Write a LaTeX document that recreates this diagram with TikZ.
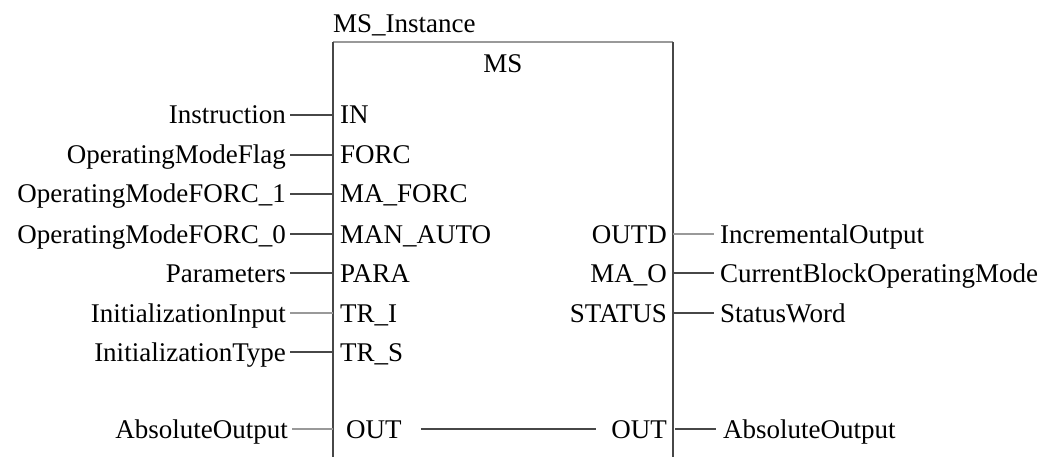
\documentclass[tikz,border=0pt]{standalone}
\usepackage{fontspec}
\setmainfont{Liberation Serif}
\begin{document}
\begin{tikzpicture}[x=1pt,y=-1pt,
  lbl/.style={inner sep=0pt,font=\fontsize{27}{32}\selectfont},
  lblL/.style={lbl,anchor=base east},
  lblR/.style={lbl,anchor=base west},
  dark/.style={draw=black!72,line width=1.3pt},
  light/.style={draw=black!40,line width=1.3pt}]
\useasboundingbox (0,0) rectangle (1046,457);
% block frame
\coordinate (tl) at (333,42);
\coordinate (tr) at (673,42);
\coordinate (bl) at (333,457);
\coordinate (br) at (673,457);
\draw[light] (tl) -- (tr);
\draw[dark] (tl) -- (bl);
\draw[dark] (tr) -- (br);
\node[lbl,anchor=base west] (inst) at (333,33) {MS\_Instance};
\node[lbl,anchor=base] (type) at (503,73) {MS};
% left input labels
\node[lblL] (l1) at (286,124) {Instruction};
\node[lblL] (l2) at (286,164) {OperatingModeFlag};
\node[lblL] (l3) at (286,203) {OperatingModeFORC\_1};
\node[lblL] (l4) at (286,243) {OperatingModeFORC\_0};
\node[lblL] (l5) at (286,282) {Parameters};
\node[lblL] (l6) at (286,322) {InitializationInput};
\node[lblL] (l7) at (286,361) {InitializationType};
\node[lblL] (l8) at (288,438) {AbsoluteOutput};
% input pins
\node[lblR] (p1) at (340,124) {IN};
\node[lblR] (p2) at (340,164) {FORC};
\node[lblR] (p3) at (340,203) {MA\_FORC};
\node[lblR] (p4) at (340,243) {MAN\_AUTO};
\node[lblR] (p5) at (340,282) {PARA};
\node[lblR] (p6) at (340,322) {TR\_I};
\node[lblR] (p7) at (340,361) {TR\_S};
\node[lblR] (p8) at (346,438) {OUT};
% output pins
\node[lblL] (q1) at (667,243) {OUTD};
\node[lblL] (q2) at (667,282) {MA\_O};
\node[lblL] (q3) at (667,322) {STATUS};
\node[lblL] (q4) at (667,438) {OUT};
% output labels
\node[lblR] (r1) at (720,243) {IncrementalOutput};
\node[lblR] (r2) at (720,282) {CurrentBlockOperatingMode};
\node[lblR] (r3) at (720,322) {StatusWord};
\node[lblR] (r4) at (723,438) {AbsoluteOutput};
% input connectors
\foreach \i in {1,2,3,4,5,7}{
  \draw[dark] ([xshift=4pt,yshift=9pt]l\i.base east) -- ([yshift=9pt]l\i.base east -| tl);
}
\draw[light] ([xshift=4pt,yshift=9pt]l6.base east) -- ([yshift=9pt]l6.base east -| tl);
\draw[light] ([xshift=4pt,yshift=9pt]l8.base east) -- ([yshift=9pt]l8.base east -| tl);
% output connectors
\draw[light] ([yshift=9pt]r1.base west -| tr) -- ([xshift=-6pt,yshift=9pt]r1.base west);
\draw[dark] ([yshift=9pt]r2.base west -| tr) -- ([xshift=-6pt,yshift=9pt]r2.base west);
\draw[dark] ([yshift=9pt]r3.base west -| tr) -- ([xshift=-6pt,yshift=9pt]r3.base west);
\draw[dark] ([xshift=2pt,yshift=9pt]r4.base west -| tr) -- ([xshift=-7pt,yshift=9pt]r4.base west);
% internal pass-through
\draw[dark] ([xshift=19pt,yshift=9pt]p8.base east) -- ([xshift=-15pt,yshift=9pt]q4.base west);
\end{tikzpicture}
\end{document}
